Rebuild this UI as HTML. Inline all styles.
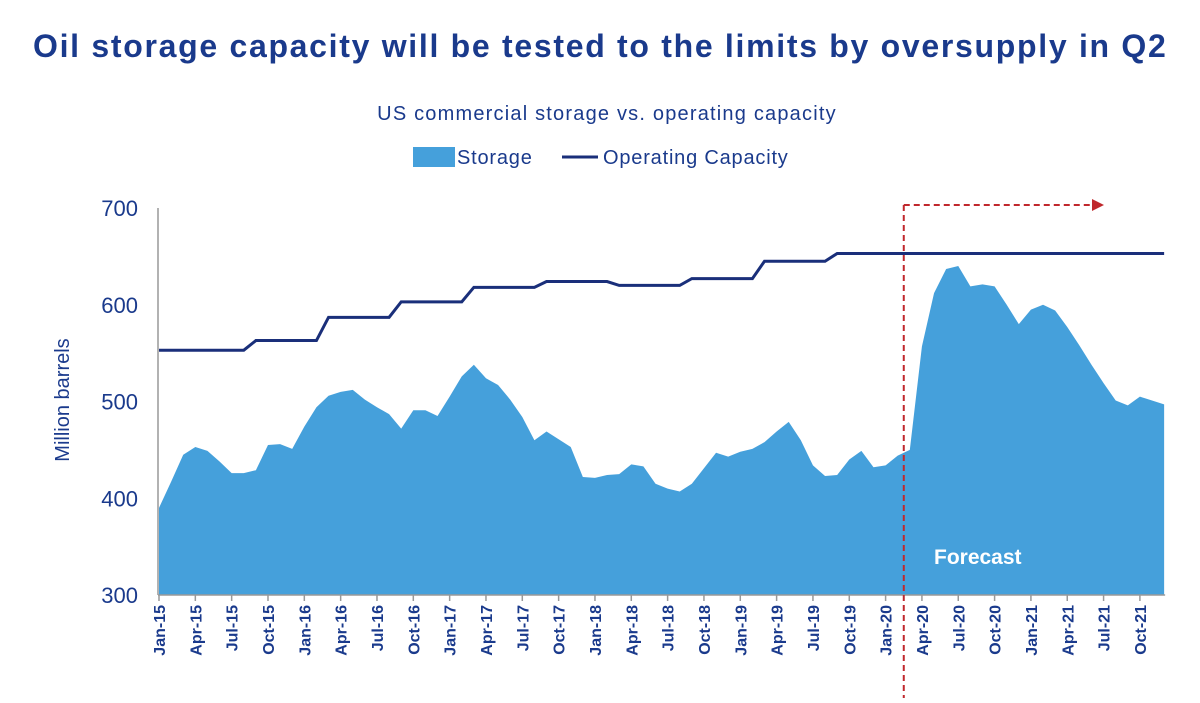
<!DOCTYPE html>
<html><head><meta charset="utf-8"><style>
body{margin:0;background:#fff;}
svg text{font-family:"Liberation Sans",sans-serif;}
</style></head><body>
<svg width="1200" height="698" xmlns="http://www.w3.org/2000/svg" id="chart">
<text x="33" y="57" font-size="32" font-weight="bold" fill="#1a3a8c" letter-spacing="1.7">Oil storage capacity will be tested to the limits by oversupply in Q2</text>
<text x="607" y="120" font-size="20" fill="#1a3a8c" text-anchor="middle" letter-spacing="1.2">US commercial storage vs. operating capacity</text>
<g>
<rect x="413" y="147" width="42" height="20" fill="#45a0db"/>
<text x="457" y="164" font-size="20" fill="#1a3a8c" letter-spacing="0.8">Storage</text>
<line x1="562" y1="157" x2="598" y2="157" stroke="#1a2f7a" stroke-width="3"/>
<text x="603" y="164" font-size="20" fill="#1a3a8c" letter-spacing="0.8">Operating Capacity</text>
</g>
<text transform="translate(69,400) rotate(-90)" font-size="20" fill="#1a3a8c" text-anchor="middle">Million barrels</text>
<g id="plot"></g>
</svg>
<script>
const months=["Jan","Feb","Mar","Apr","May","Jun","Jul","Aug","Sep","Oct","Nov","Dec"];
const storage=[390,417,445,453,449,438,426,426,429,455,456,451,
474,494,506,510,512,502,494,487,472,491,491,485,
505,526,538,524,517,502,484,460,469,461,453,422,
421,424,425,435,433,415,410,407,415,431,447,443,
448,451,458,469,479,460,434,423,424,440,449,432,
434,444,450,557,612,637,640,619,621,619,600,580,
595,600,594,577,558,538,519,501,496,505,501,497];
const capacity=[553,553,553,553,553,553,553,553,563,563,563,563,
563,563,587,587,587,587,587,587,603,603,603,603,
603,603,618,618,618,618,618,618,624,624,624,624,
624,624,620,620,620,620,620,620,627,627,627,627,
627,627,645,645,645,645,645,645,653,653,653,653,
653,653,653,653,653,653,653,653,653,653,653,653,
653,653,653,653,653,653,653,653,653,653,653,653];
const yTicks=[300,400,500,600,700];
const tickMonths=[0,3,6,9];
const forecastStart=61.5;
const NS="http://www.w3.org/2000/svg";
const X0=159,DX=12.11,Y0=595,K=0.9675;
const xs=i=>X0+DX*i;
const ys=v=>Y0-(v-300)*K;
const g=document.getElementById('plot');
function mk(t,a){const e=document.createElementNS(NS,t);for(const k in a)e.setAttribute(k,a[k]);g.appendChild(e);return e;}
let d=`M${xs(0)},${ys(300)}`;
storage.forEach((v,i)=>d+=`L${xs(i)},${ys(v)}`);
d+=`L${xs(storage.length-1)},${ys(300)}Z`;
const area=mk('path',{d:d,fill:'#45a0db'});


const cp=capacity.map((v,i)=>`${i?'L':'M'}${xs(i)},${ys(v)}`).join('');
const cl=mk('path',{d:cp,fill:'none',stroke:'#1a2f7a','stroke-width':3});


const ya=mk('line',{x1:158,y1:ys(700),x2:158,y2:Y0,stroke:'#999','stroke-width':1.5});


const xa=mk('line',{x1:158,y1:Y0,x2:xs(83)+1,y2:Y0,stroke:'#999','stroke-width':1.5});


yTicks.forEach(v=>{const t=mk('text',{x:138,y:ys(v)+8,'font-size':22,fill:'#1a3a8c','text-anchor':'end'});t.textContent=v;

});
for(let i=0;i<storage.length;i++){const m=i%12;if(!tickMonths.includes(m))continue;
const x=xs(i);
const tk=mk('line',{x1:x,y1:Y0,x2:x,y2:Y0+6,stroke:'#999','stroke-width':1.5});


const t=mk('text',{transform:`translate(${x+6},${Y0+10}) rotate(-90)`,'font-size':16,'font-weight':'bold',fill:'#1a3a8c','text-anchor':'end'});
t.textContent=months[m]+'-'+(15+Math.floor(i/12));

}
const fx=xs(forecastStart);
const v1=mk('line',{x1:fx,y1:205,x2:fx,y2:698,stroke:'#c0282d','stroke-width':2,'stroke-dasharray':'6,4'});


const h1=mk('line',{x1:fx,y1:205,x2:1094,y2:205,stroke:'#c0282d','stroke-width':2,'stroke-dasharray':'6,4'});


const ah=mk('path',{d:'M1092,199L1104,205L1092,211Z',fill:'#c0282d'});


const ft=mk('text',{x:934,y:564,'font-size':21,'font-weight':'bold',fill:'#fff'});
ft.textContent='Forecast';


</script>
</body></html>
